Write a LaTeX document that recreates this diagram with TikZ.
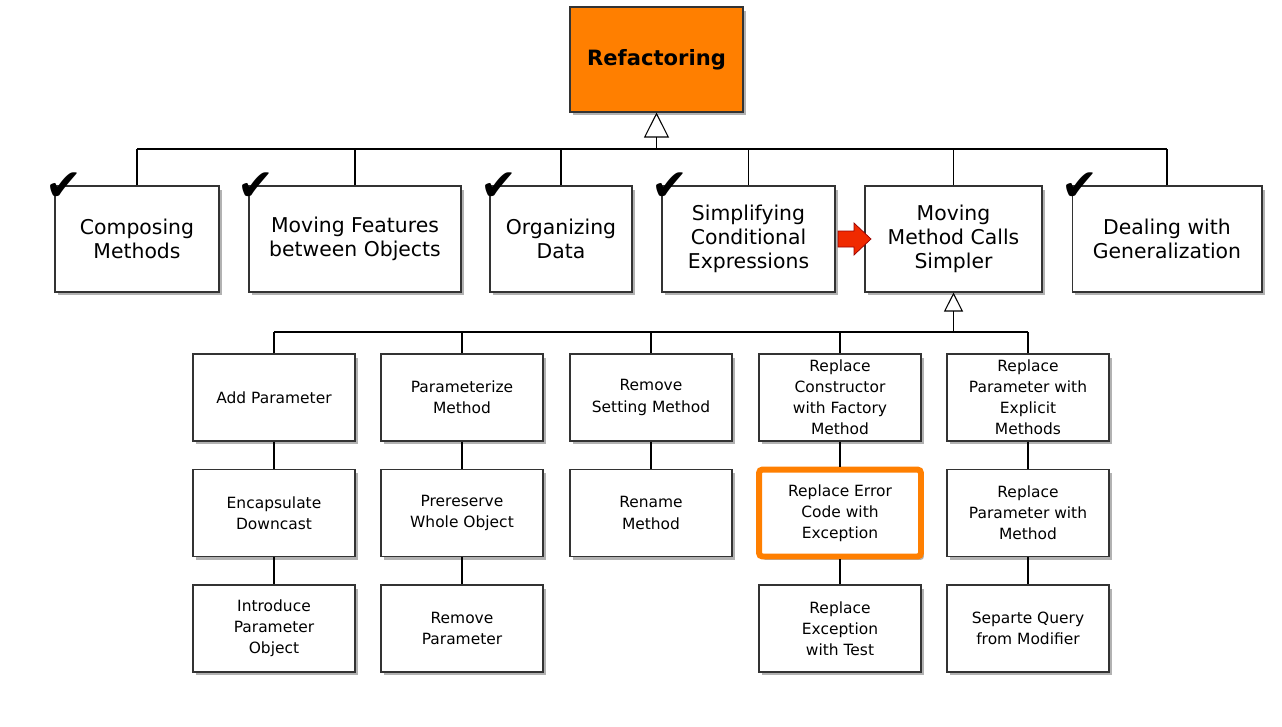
\documentclass[tikz,border=0pt]{standalone}
\usepackage{fontspec}
\setmainfont{DejaVu Sans}
\usepackage{xcolor}
\usepackage{tikz}
\usetikzlibrary{arrows.meta, positioning, shadows}
\definecolor{refOrange}{HTML}{FF7F00}
\definecolor{refRed}{HTML}{F02A00}
\tikzset{
    boxshadow/.style={drop shadow={shadow xshift=0.06cm, shadow yshift=-0.07cm, fill=black, opacity=0.3}},
    rootbox/.style={rectangle, minimum width=3.46cm, minimum height=2.1cm, text centered, draw=black!80, line width=0.6pt, fill=refOrange, font=\fontsize{12}{14}\selectfont\bfseries, boxshadow},
    catbox/.style={rectangle, minimum height=2.12cm, align=center, draw=black!80, line width=0.6pt, fill=white, font=\fontsize{11.6}{13.6}\selectfont, boxshadow},
    leafbox/.style={rectangle, minimum width=3.24cm, minimum height=1.74cm, align=center, draw=black!80, line width=0.6pt, fill=white, font=\fontsize{8.8}{12}\selectfont, boxshadow},
    hotbox/.style={leafbox, draw=refOrange, line width=3.4pt, rounded corners=2pt},
    tick/.style={inner sep=0pt, font=\fontsize{25}{25}\selectfont},
    link/.style={line width=0.6pt, black},
    inherit/.style={link, -{Triangle[open, width=#1, length=#1]}},
    redarrow/.style={fill=refRed, draw=red!60!black, line width=0.4pt}
}
\begin{document}
\begin{tikzpicture}[x=0.02cm, y=-0.02cm]
    \useasboundingbox (0,0) rectangle (1282,727);

    % top
    \node (root) [rootbox] at (656.5,59.5) {Refactoring};

    % categories
    \node (comp) [catbox, minimum width=3.28cm] at (137,239) {Composing\\Methods};
    \node (feat) [catbox, minimum width=4.24cm] at (355,239) {Moving Features\\between Objects};
    \node (data) [catbox, minimum width=2.84cm] at (561,239) {Organizing\\Data};
    \node (cond) [catbox, minimum width=3.46cm] at (748.5,239) {Simplifying\\Conditional\\Expressions};
    \node (calls) [catbox, minimum width=3.54cm] at (953.5,239) {Moving\\Method Calls\\Simpler};
    \node (gen) [catbox, minimum width=3.8cm] at (1167,239) {Dealing with\\Generalization};

    % done marks
    \node (tcomp) [tick] at ([xshift=0.18cm, yshift=-0.02cm]comp.north west) {✔};
    \node (tfeat) [tick] at ([xshift=0.14cm, yshift=-0.02cm]feat.north west) {✔};
    \node (tdata) [tick] at ([xshift=0.18cm, yshift=-0.02cm]data.north west) {✔};
    \node (tcond) [tick] at ([xshift=0.16cm, yshift=-0.02cm]cond.north west) {✔};
    \node (tgen) [tick] at ([xshift=0.16cm, yshift=-0.02cm]gen.north west) {✔};

    % current
    \filldraw [redarrow] (838,231) -- (854,231) -- (854,223) -- (871,239) -- (854,255) -- (854,247) -- (838,247) -- cycle;

    % moving method calls simpler
    \node (addp) [leafbox] at (274,397.5) {Add Parameter};
    \node (parm) [leafbox] at (462,397.5) {Parameterize\\Method};
    \node (rset) [leafbox] at (651,397.5) {Remove\\Setting Method};
    \node (rcon) [leafbox] at (840,397.5) {Replace\\Constructor\\with Factory\\Method};
    \node (rexp) [leafbox] at (1028,397.5) {Replace\\Parameter with\\Explicit\\Methods};

    \node (down) [leafbox] at (274,513) {Encapsulate\\Downcast};
    \node (whole) [leafbox] at (462,513) {Prereserve\\Whole Object};
    \node (ren) [leafbox] at (651,513) {Rename\\Method};
    \node (rerr) [hotbox] at (840,513) {Replace Error\\Code with\\Exception};
    \node (rpm) [leafbox] at (1028,513) {Replace\\Parameter with\\Method};

    \node (ipo) [leafbox] at (274,628.5) {Introduce\\Parameter\\Object};
    \node (rpar) [leafbox] at (462,628.5) {Remove\\Parameter};
    \node (rtest) [leafbox] at (840,628.5) {Replace\\Exception\\with Test};
    \node (sqm) [leafbox] at (1028,628.5) {Separte Query\\from Modifier};

    % tree lines
    \coordinate (hubA) at (656.5,149);
    \coordinate (hubB) at (953.5,332);
    \draw [link] (comp.north |- hubA) -- (gen.north |- hubA);
    \foreach \n in {comp, feat, data, cond, calls, gen}
        \draw [link] (\n.north) -- (\n.north |- hubA);
    \draw [inherit=0.5cm] (hubA) -- (root.south);
    \draw [link] (addp.north |- hubB) -- (rexp.north |- hubB);
    \foreach \n in {addp, parm, rset, rcon, rexp}
        \draw [link] (\n.north) -- (\n.north |- hubB);
    \draw [inherit=0.38cm] (hubB) -- (calls.south);
    \draw [link] (addp) -- (down);
    \draw [link] (down) -- (ipo);
    \draw [link] (parm) -- (whole);
    \draw [link] (whole) -- (rpar);
    \draw [link] (rset) -- (ren);
    \draw [link] (rcon) -- (rerr);
    \draw [link] (rerr) -- (rtest);
    \draw [link] (rexp) -- (rpm);
    \draw [link] (rpm) -- (sqm);
\end{tikzpicture}
\end{document}
